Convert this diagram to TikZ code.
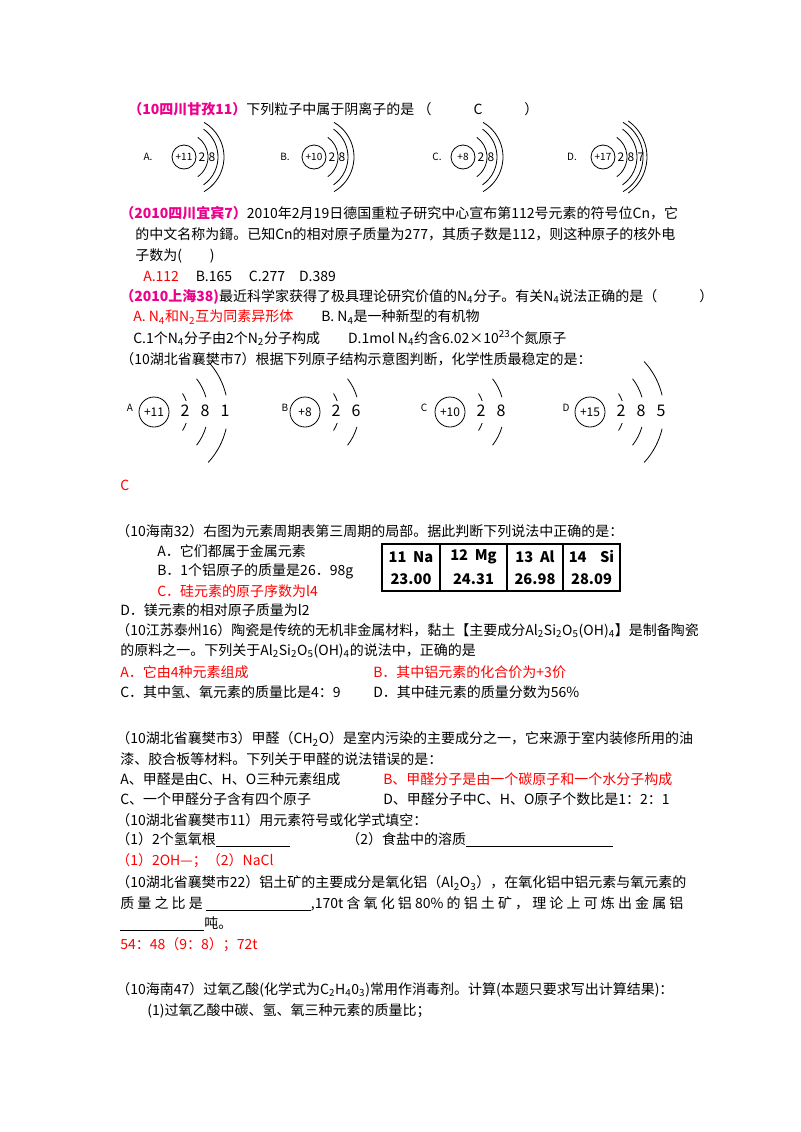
\documentclass[tikz,border=0pt]{standalone}
\usepackage{fontspec}
\setmainfont{Noto Sans CJK SC}
\begin{document}
\begin{tikzpicture}[x=0.75pt,y=-0.75pt,
  t/.style={anchor=west,inner sep=0pt,font=\fontsize{10.5}{12}\selectfont},
  mg/.style={text=magenta},
  rd/.style={text=red},
  sm/.style={anchor=center,inner sep=0pt,font=\fontsize{7.5}{8}\selectfont},
  nb/.style={anchor=center,inner sep=0pt,font=\fontsize{12}{13}\selectfont},
  sh/.style={line width=0.6pt}]
\useasboundingbox (0,0) rectangle (800,1132);
% Q1
\node[t] (q1) at (128,109) {\textcolor{magenta}{\textbf{（10四川甘孜11）}}下列粒子中属于阴离子的是 （\hspace{3em}C\hspace{3em}）};
% row 1 atoms
\foreach \lx/\cx/\lab/\ch/\els in {148/184/A./+11/{2,8},285/314/B./+10/{2,8},437/463/C./+8/{2,8},572/603/D./+17/{2,8,7}}{
  \node[sm] at (\lx,157) {\lab};
  \draw[sh] (\cx,157) circle (12);
  \node[sm] at (\cx,157) {\ch};
  \foreach \e [count=\i] in \els {
    \node[sm,font=\fontsize{9}{10}\selectfont] at (\cx+8+\i*10,157) {\e};
    \draw[sh] (\cx,157) ++(55:14+\i*10) arc[start angle=55,end angle=-55,radius=14+\i*10];
  }
  \draw[sh] (\cx,157) ++(60:40) arc[start angle=60,end angle=-60,radius=40];
}
% Q2
\node[t] (q2a) at (120,213) {\textcolor{magenta}{\textbf{（2010四川宜宾7）}}2010年2月19日德国重粒子研究中心宣布第112号元素的符号位Cn，它};
\node[t] (q2b) at (135,234) {的中文名称为鎶。已知Cn的相对原子质量为277，其质子数是112，则这种原子的核外电};
\node[t] (q2c) at (135,256) {子数为(\hspace{2em})};
\node[t] (q2d) at (143,276) {\textcolor{red}{A.112}\hspace{1.2em}B.165\hspace{1.2em}C.277\hspace{1em}D.389};
% Q3
\node[t] (q3a) at (120,297) {\textcolor{magenta}{\textbf{（2010上海38)}}最近科学家获得了极具理论研究价值的N\textsubscript{4}分子。有关N\textsubscript{4}说法正确的是（\hspace{3em}）};
\node[t] (q3b) at (133,317) {\textcolor{red}{A. N\textsubscript{4}和N\textsubscript{2}互为同素异形体}\hspace{2em}B. N\textsubscript{4}是一种新型的有机物};
\node[t] (q3c) at (133,338) {C.1个N\textsubscript{4}分子由2个N\textsubscript{2}分子构成\hspace{2em}D.1mol N\textsubscript{4}约含6.02×10\textsuperscript{23}个氮原子};
% Q4
\node[t] (q4) at (120,359) {（10湖北省襄樊市7）根据下列原子结构示意图判断，化学性质最稳定的是：};
\foreach \lx/\cx/\lab/\ch/\els in {130/154/A/+11/{2,8,1},285/305/B/+8/{2,6},424/450/C/+10/{2,8},566/590/D/+15/{2,8,5}}{
  \node[sm] at (\lx,408) {\lab};
  \draw[sh] (\cx,412) circle (15);
  \node[sm,font=\fontsize{9}{10}\selectfont] at (\cx,412) {\ch};
  \foreach \e [count=\i] in \els {
    \node[nb] at (\cx+11+\i*20,411) {\e};
    \draw[sh] (\cx,412) ++(22-3*\i:14+\i*20) arc[start angle=22-3*\i,end angle=28+5*\i,radius=14+\i*20];
    \draw[sh] (\cx,412) ++(-22+3*\i:14+\i*20) arc[start angle=-22+3*\i,end angle=-28-5*\i,radius=14+\i*20];
  }
}
\node[t,rd] (a4) at (120,485) {C};
% Q5
\node[t] (q5) at (116,531) {（10海南32）右图为元素周期表第三周期的局部。据此判断下列说法中正确的是：};
\node[t] (q5a) at (157,551) {A．它们都属于金属元素};
\node[t] (q5b) at (157,571) {B．1个铝原子的质量是26．98g};
\node[t,rd] (q5c) at (157,591) {C．硅元素的原子序数为l4};
\node[t] (q5d) at (120,610) {D．镁元素的相对原子质量为l2};
\draw[line width=0.9pt] (382,544) rectangle (620,591);
\foreach \x in {440,507,563} \draw[line width=0.9pt] (\x,544) -- (\x,591);
\foreach \cx/\a/\b in {411/11\ \ Na/23.00,473.5/12\ \ Mg/24.31,535/13\ \ Al/26.98,591.5/14\ \ \ \ Si/28.09}{
  \node[sm,font=\bfseries\fontsize{11}{12}\selectfont] at (\cx,557) {\a};
  \node[sm,font=\bfseries\fontsize{11}{12}\selectfont] at (\cx,579) {\b};
}
% Q6
\node[t] (q6a) at (116,631) {（10江苏泰州16）陶瓷是传统的无机非金属材料，黏土【主要成分Al\textsubscript{2}Si\textsubscript{2}O\textsubscript{5}(OH)\textsubscript{4}】是制备陶瓷};
\node[t] (q6b) at (120,651) {的原料之一。下列关于Al\textsubscript{2}Si\textsubscript{2}O\textsubscript{5}(OH)\textsubscript{4}的说法中，正确的是};
\node[t,rd] (q6c) at (120,672) {A．它由4种元素组成};
\node[t,rd] (q6d) at (373,672) {B．其中铝元素的化合价为+3价};
\node[t] (q6e) at (120,692) {C．其中氢、氧元素的质量比是4：9};
\node[t] (q6f) at (373,692) {D．其中硅元素的质量分数为56\%};
% Q7
\node[t] (q7a) at (116,739) {（10湖北省襄樊市3）甲醛（CH\textsubscript{2}O）是室内污染的主要成分之一，它来源于室内装修所用的油};
\node[t] (q7b) at (120,759) {漆、胶合板等材料。下列关于甲醛的说法错误的是：};
\node[t] (q7c) at (120,779) {A、甲醛是由C、H、O三种元素组成};
\node[t,rd] (q7d) at (383,779) {B、甲醛分子是由一个碳原子和一个水分子构成};
\node[t] (q7e) at (120,799) {C、一个甲醛分子含有四个原子};
\node[t] (q7f) at (383,799) {D、甲醛分子中C、H、O原子个数比是1：2：1};
% Q8
\node[t] (q8a) at (116,820) {（10湖北省襄樊市11）用元素符号或化学式填空：};
\node[t] (q8b) at (116,840) {（1）2个氢氧根\underline{\hspace{5.3em}}};
\node[t] (q8c) at (346,840) {（2）食盐中的溶质\underline{\hspace{10.5em}}};
\node[t,rd] (q8d) at (116,861) {（1）2OH—；（2）NaCl};
% Q9
\node[t] (q9a) at (116,883) {（10湖北省襄樊市22）铝土矿的主要成分是氧化铝（Al\textsubscript{2}O\textsubscript{3}），在氧化铝中铝元素与氧元素的};
\node[t] (q9b) at (120,904) {质 量 之 比 是 \underline{\hspace{7.5em}},170t 含 氧 化 铝 80\% 的 铝 土 矿 ， 理 论 上 可 炼 出 金 属 铝};
\node[t] (q9c) at (120,924) {\underline{\hspace{6em}}吨。};
\node[t,rd] (q9d) at (120,945) {54：48（9：8）；72t};
% Q10
\node[t] (q10a) at (116,990) {（10海南47）过氧乙酸(化学式为C\textsubscript{2}H\textsubscript{4}0\textsubscript{3})常用作消毒剂。计算(本题只要求写出计算结果)：};
\node[t] (q10b) at (147,1011) {(1)过氧乙酸中碳、氢、氧三种元素的质量比；};
\end{tikzpicture}
\end{document}
